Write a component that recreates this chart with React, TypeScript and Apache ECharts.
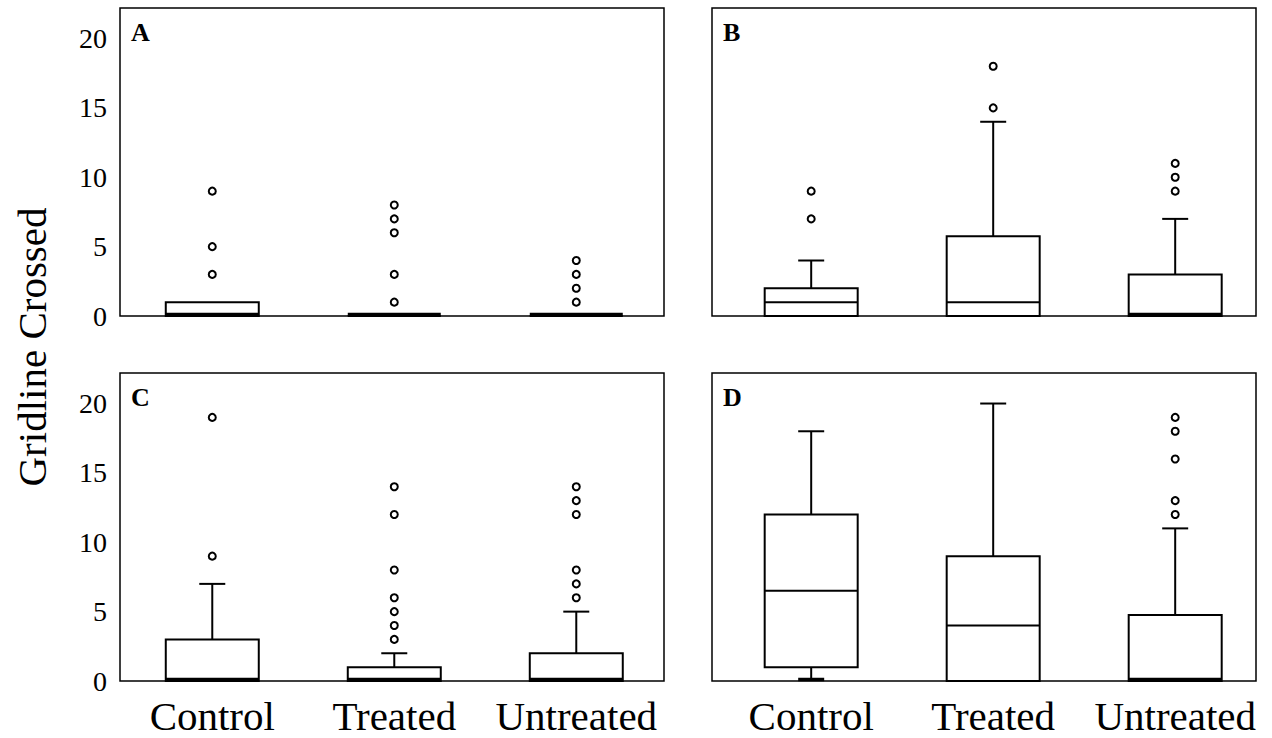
import React, { useEffect, useRef } from "react";
import * as echarts from "echarts";

const categories = ["Control", "Treated", "Untreated"];
const categoryPositions = [1, 2, 3];
const panelLetters = ["A", "B", "C", "D"];
const yTickValues = [0, 5, 10, 15, 20];
const yTitle = "Gridline Crossed";

// [min, Q1, median, Q3, max] per category
const boxesA = [
  [0, 0, 0, 1, 1],
  [0, 0, 0, 0, 0],
  [0, 0, 0, 0, 0],
];
const outliersA = [
  [3, 5, 9],
  [1, 3, 6, 7, 8],
  [1, 2, 3, 4],
];
const boxesB = [
  [0, 0, 1, 2, 4],
  [0, 0, 1, 5.75, 14],
  [0, 0, 0, 3, 7],
];
const outliersB = [
  [7, 9],
  [15, 18],
  [9, 10, 11],
];
const boxesC = [
  [0, 0, 0, 3, 7],
  [0, 0, 0, 1, 2],
  [0, 0, 0, 2, 5],
];
const outliersC = [
  [9, 19],
  [3, 4, 5, 6, 8, 12, 14],
  [6, 7, 8, 12, 13, 14],
];
const boxesD = [
  [0, 1, 6.5, 12, 18],
  [0, 0, 4, 9, 20],
  [0, 0, 0, 4.75, 11],
];
const outliersD = [
  [],
  [],
  [12, 13, 16, 18, 19],
];

const panels = [
  { boxes: boxesA, outliers: outliersA },
  { boxes: boxesB, outliers: outliersB },
  { boxes: boxesC, outliers: outliersC },
  { boxes: boxesD, outliers: outliersD },
];

const FONT = "Liberation Serif";
const grids = [
  { left: 120, top: 8, width: 544, height: 308 },
  { left: 712, top: 8, width: 544, height: 308 },
  { left: 120, top: 373, width: 544, height: 308 },
  { left: 712, top: 373, width: 544, height: 308 },
];
// x-axis extents (left panels / right panels)
const xRanges = [
  [0.493, 3.482],
  [0.455, 3.444],
  [0.493, 3.482],
  [0.455, 3.444],
];
const BOX_HALF = 46.5;
const CAP_HALF = 13;

function renderBox(params: any, api: any) {
  const x = api.value(0);
  const lo = api.value(1);
  const q1 = api.value(2);
  const med = api.value(3);
  const q3 = api.value(4);
  const hi = api.value(5);
  const pLo = api.coord([x, lo]);
  const pQ1 = api.coord([x, q1]);
  const pMed = api.coord([x, med]);
  const pQ3 = api.coord([x, q3]);
  const pHi = api.coord([x, hi]);
  const cx = pMed[0];
  const ls = { stroke: "#000", lineWidth: 2 };
  const children: any[] = [];
  if (hi > q3) {
    children.push({ type: "line", shape: { x1: cx, y1: pQ3[1], x2: cx, y2: pHi[1] }, style: ls });
    children.push({ type: "line", shape: { x1: cx - CAP_HALF, y1: pHi[1], x2: cx + CAP_HALF, y2: pHi[1] }, style: ls });
  }
  if (lo < q1) {
    children.push({ type: "line", shape: { x1: cx, y1: pQ1[1], x2: cx, y2: pLo[1] }, style: ls });
    children.push({ type: "line", shape: { x1: cx - CAP_HALF, y1: pLo[1] - 1.5, x2: cx + CAP_HALF, y2: pLo[1] - 1.5 }, style: { stroke: "#000", lineWidth: 3.5 } });
  }
  children.push({
    type: "rect",
    shape: { x: cx - BOX_HALF, y: pQ3[1], width: BOX_HALF * 2, height: pQ1[1] - pQ3[1] },
    style: { fill: "#fff", stroke: "#000", lineWidth: 2 },
  });
  const medY = med === 0 ? pMed[1] - 1.5 : pMed[1];
  children.push({
    type: "line",
    shape: { x1: cx - BOX_HALF, y1: medY, x2: cx + BOX_HALF, y2: medY },
    style: { stroke: "#000", lineWidth: med === 0 ? 3.5 : 2 },
  });
  return { type: "group", children };
}

export default function App() {
  const ref = useRef<HTMLDivElement>(null);
  useEffect(() => {
    document.body.style.margin = "0";
    const chart = echarts.init(ref.current!, null, { renderer: "svg" });
    const grid = grids.map((g) => ({ ...g, show: true, borderColor: "#000", borderWidth: 1.5, backgroundColor: "#fff" }));
    const xAxis = grids.map((_, i) => ({
      type: "value",
      gridIndex: i,
      min: xRanges[i][0],
      max: xRanges[i][1],
      axisLine: { show: false },
      axisTick: { show: false },
      splitLine: { show: false },
      axisLabel: {
        show: i >= 2,
        customValues: categoryPositions,
        formatter: (v: number) => categories[categoryPositions.indexOf(Math.round(v))] ?? "",
        color: "#000",
        fontFamily: FONT,
        fontSize: 41,
        margin: 14,
      },
    }));
    const yAxis = grids.map((_, i) => ({
      type: "value",
      gridIndex: i,
      min: 0,
      max: 22.2,
      interval: 5,
      axisLine: { show: false },
      axisTick: { show: false },
      splitLine: { show: false },
      axisLabel: {
        show: i % 2 === 0,
        color: "#000",
        fontFamily: FONT,
        fontSize: 28,
        margin: 13,
        formatter: (v: number) => (yTickValues.includes(v) ? String(v) : ""),
      },
    }));
    const series: any[] = [];
    panels.forEach((p, i) => {
      series.push({
        type: "custom",
        xAxisIndex: i,
        yAxisIndex: i,
        renderItem: renderBox,
        encode: { x: 0, y: [1, 2, 3, 4, 5] },
        data: p.boxes.map((b, k) => [categoryPositions[k], ...b]),
        silent: true,
        z: 2,
      });
      const pts: number[][] = [];
      p.outliers.forEach((arr, k) => arr.forEach((v) => pts.push([categoryPositions[k], v])));
      series.push({
        type: "scatter",
        xAxisIndex: i,
        yAxisIndex: i,
        data: pts,
        symbol: "circle",
        symbolSize: 7,
        itemStyle: { color: "#fff", borderColor: "#000", borderWidth: 2, opacity: 1 },
        silent: true,
        z: 3,
      });
    });
    const graphic: any[] = [
      {
        type: "text",
        x: 32,
        y: 347,
        rotation: Math.PI / 2,
        style: {
          text: yTitle,
          fill: "#000",
          font: `41px "${FONT}"`,
          textAlign: "center",
          textVerticalAlign: "middle",
        },
      },
      ...grids.map((g, i) => ({
        type: "text",
        left: g.left + 11,
        top: g.top + 11,
        style: { text: panelLetters[i], fill: "#000", font: `bold 26px "${FONT}"` },
      })),
    ];
    chart.setOption({
      animation: false,
      backgroundColor: "#fff",
      grid,
      xAxis,
      yAxis,
      series,
      graphic,
    });
    return () => chart.dispose();
  }, []);
  return <div ref={ref} style={{ position: "absolute", left: 0, top: 0, width: 1272, height: 738 }} />;
}
